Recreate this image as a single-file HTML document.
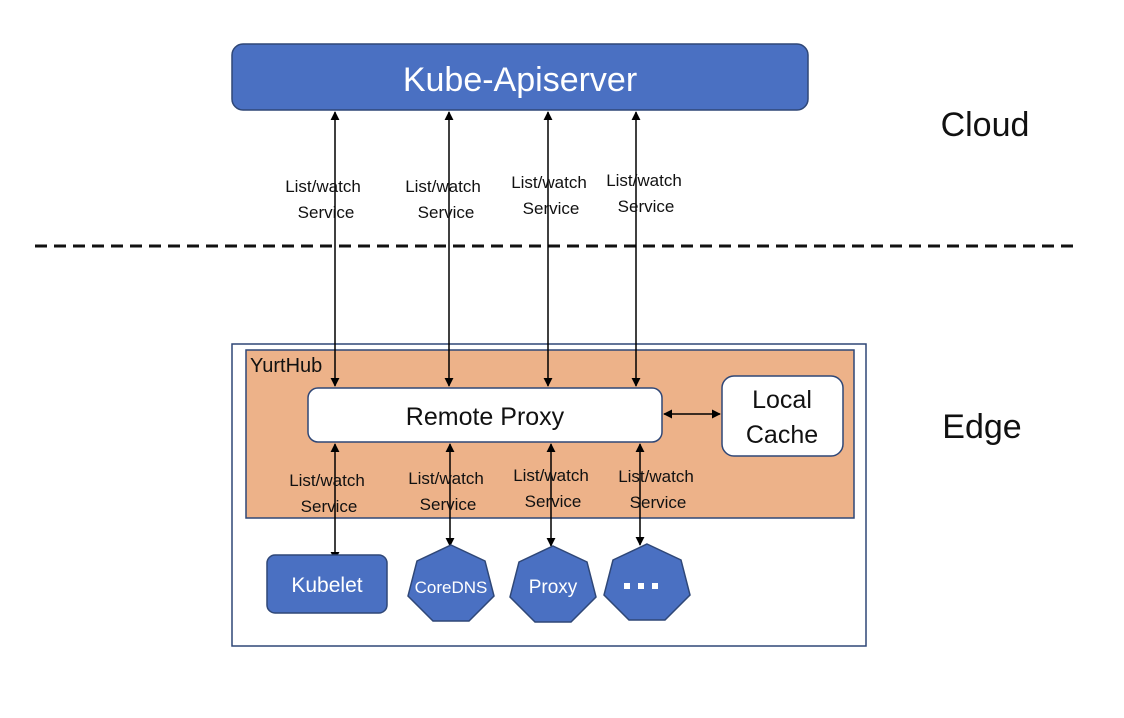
<!DOCTYPE html>
<html><head><meta charset="utf-8"><style>
html,body{margin:0;padding:0;background:#fff;}
svg text{font-family:"Liberation Sans","Noto Sans CJK SC",sans-serif;}
</style></head><body>
<svg width="1124" height="713" viewBox="0 0 1124 713" xmlns="http://www.w3.org/2000/svg">
<defs>
<marker id="a" viewBox="0 0 10 10" refX="9" refY="5" markerWidth="9" markerHeight="9" orient="auto-start-reverse" markerUnits="userSpaceOnUse">
<path d="M0,0 L10,5 L0,10 z" fill="#000"/></marker>
</defs>
<rect x="232" y="44" width="576" height="66" rx="11" fill="#4a70c2" stroke="#2f4777" stroke-width="1.5"/>
<text x="520" y="91" font-size="34" fill="#fff" text-anchor="middle">Kube-Apiserver</text>
<text x="985" y="136" font-size="34" fill="#111" text-anchor="middle">Cloud</text>
<text x="982" y="438" font-size="34" fill="#111" text-anchor="middle">Edge</text>
<line x1="35" y1="246" x2="1079" y2="246" stroke="#111" stroke-width="3" stroke-dasharray="12 7"/>
<rect x="232" y="344" width="634" height="302" fill="#fff" stroke="#2f4777" stroke-width="1.5"/>
<rect x="246" y="350" width="608" height="168" fill="#edb289" stroke="#2f4777" stroke-width="1.5"/>
<text x="250" y="372" font-size="20" fill="#111">YurtHub</text>
<rect x="308" y="388" width="354" height="54" rx="10" fill="#fff" stroke="#2f4777" stroke-width="1.5"/>
<text x="485" y="425" font-size="25" fill="#111" text-anchor="middle">Remote Proxy</text>
<rect x="722" y="376" width="121" height="80" rx="12" fill="#fff" stroke="#2f4777" stroke-width="1.5"/>
<text x="782" y="408" font-size="25" fill="#111" text-anchor="middle">Local</text>
<text x="782" y="443" font-size="25" fill="#111" text-anchor="middle">Cache</text>
<g stroke="#000" stroke-width="1.5" marker-start="url(#a)" marker-end="url(#a)">
<line x1="335" y1="112" x2="335" y2="386"/>
<line x1="449" y1="112" x2="449" y2="386"/>
<line x1="548" y1="112" x2="548" y2="386"/>
<line x1="636" y1="112" x2="636" y2="386"/>
<line x1="335" y1="444" x2="335" y2="560"/>
<line x1="450" y1="444" x2="450" y2="546"/>
<line x1="551" y1="444" x2="551" y2="546"/>
<line x1="640" y1="444" x2="640" y2="545"/>
<line x1="664" y1="414" x2="720" y2="414"/>
</g>
<g font-size="17" fill="#111" text-anchor="middle">
<text x="323" y="192">List/watch</text><text x="326" y="218">Service</text>
<text x="443" y="192">List/watch</text><text x="446" y="218">Service</text>
<text x="549" y="188">List/watch</text><text x="551" y="214">Service</text>
<text x="644" y="186">List/watch</text><text x="646" y="212">Service</text>
<text x="327" y="486">List/watch</text><text x="329" y="512">Service</text>
<text x="446" y="484">List/watch</text><text x="448" y="510">Service</text>
<text x="551" y="481">List/watch</text><text x="553" y="507">Service</text>
<text x="656" y="482">List/watch</text><text x="658" y="508">Service</text>
</g>
<rect x="267" y="555" width="120" height="58" rx="8" fill="#4a70c2" stroke="#2f4777" stroke-width="1.5"/>
<text x="327" y="592" font-size="21" fill="#fff" text-anchor="middle">Kubelet</text>
<g fill="#4a70c2" stroke="#2f4777" stroke-width="1.5">
<polygon points="451,545 485,561 494,596 469,621 433,621 408,596 417,561"/>
<polygon points="553,546 587,562 596,597 571,622 535,622 510,597 519,562"/>
<polygon points="647,544 681,560 690,595 665,620 629,620 604,595 613,560"/>
</g>
<text x="451" y="593" font-size="17" fill="#fff" text-anchor="middle">CoreDNS</text>
<text x="553" y="593" font-size="19" fill="#fff" text-anchor="middle">Proxy</text>
<g fill="#fff"><rect x="624" y="583" width="6" height="6"/><rect x="638" y="583" width="6" height="6"/><rect x="652" y="583" width="6" height="6"/></g>
</svg>
</body></html>
